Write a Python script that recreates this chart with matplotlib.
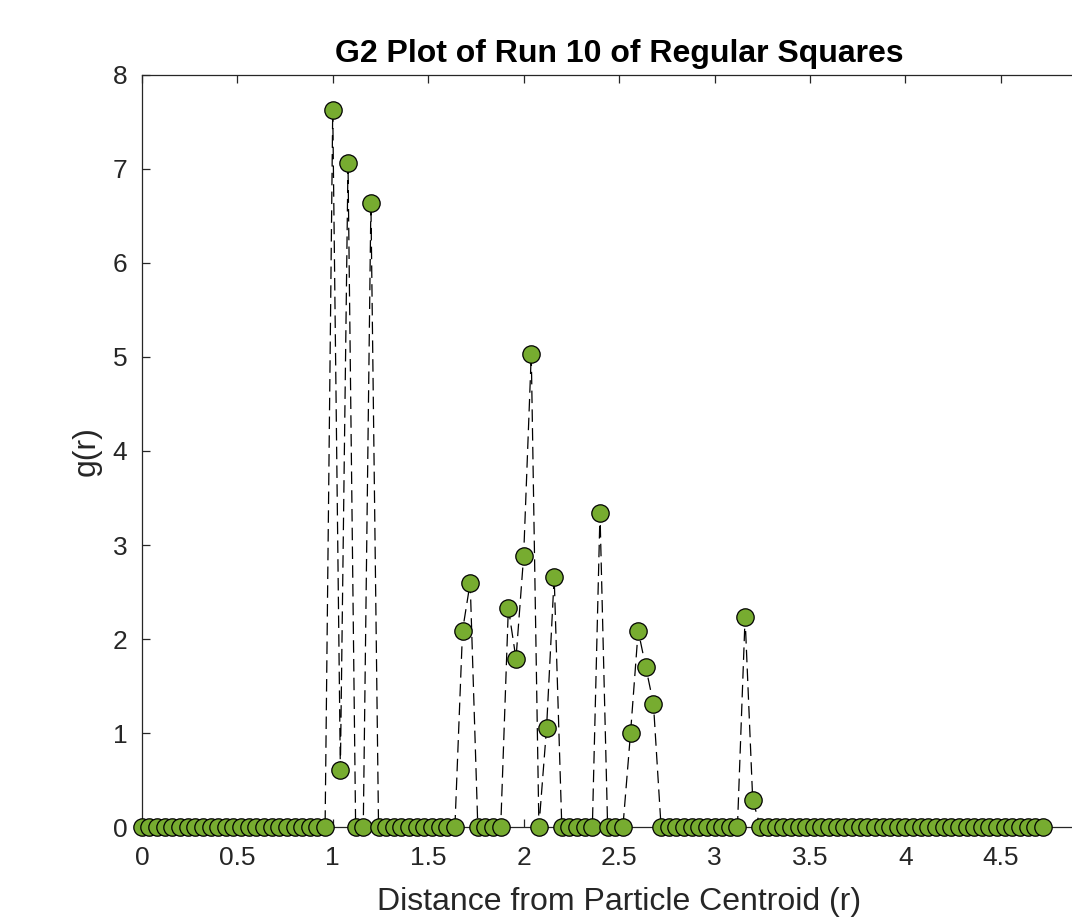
import numpy as np
import matplotlib
matplotlib.use("Agg")
import matplotlib.pyplot as plt

plt.rcParams['font.family'] = ['Liberation Sans', 'DejaVu Sans']

# Data: g(r) sampled every 0.04 from 0 to 4.72
r_step = 0.04
g_values = [
    0, 0, 0, 0, 0, 0, 0, 0, 0, 0,          # 0.00 - 0.36
    0, 0, 0, 0, 0, 0, 0, 0, 0, 0,          # 0.40 - 0.76
    0, 0, 0, 0, 0, 7.63, 0.61, 7.06, 0, 0, # 0.80 - 1.16
    6.64, 0, 0, 0, 0, 0, 0, 0, 0, 0,       # 1.20 - 1.56
    0, 0, 2.09, 2.60, 0, 0, 0, 0, 2.33, 1.79,  # 1.60 - 1.96
    2.88, 5.03, 0, 1.05, 2.66, 0, 0, 0, 0, 0,  # 2.00 - 2.36
    3.34, 0, 0, 0, 1.00, 2.09, 1.70, 1.31, 0, 0,  # 2.40 - 2.76
    0, 0, 0, 0, 0, 0, 0, 0, 0, 2.23,       # 2.80 - 3.16
    0.29, 0, 0, 0, 0, 0, 0, 0, 0, 0,       # 3.20 - 3.56
    0, 0, 0, 0, 0, 0, 0, 0, 0, 0,          # 3.60 - 3.96
    0, 0, 0, 0, 0, 0, 0, 0, 0, 0,          # 4.00 - 4.36
    0, 0, 0, 0, 0, 0, 0, 0, 0,             # 4.40 - 4.72
]
r_values = np.arange(len(g_values)) * r_step

x_ticks = [0, 0.5, 1, 1.5, 2, 2.5, 3, 3.5, 4, 4.5]
y_ticks = [0, 1, 2, 3, 4, 5, 6, 7, 8]

title_text = "G2 Plot of Run 10 of Regular Squares"
x_label = "Distance from Particle Centroid (r)"
y_label = "g(r)"

fig = plt.figure(figsize=(10.72, 9.19), dpi=100)
ax = fig.add_axes([0.1323, 0.1001, 0.8904, 0.8183])

ax.plot(r_values, g_values, color='black', linewidth=0.9,
        linestyle=(0, (10, 5)), marker='o', markersize=12.5,
        markerfacecolor='#77AC30', markeredgecolor='black',
        markeredgewidth=0.9, clip_on=False, zorder=3)

ax.set_xlim(0, 5)
ax.set_ylim(0, 8)
ax.set_xticks(x_ticks)
ax.set_xticklabels([f"{t:g}" for t in x_ticks])
ax.set_yticks(y_ticks)

axis_color = '#262626'
for s in ax.spines.values():
    s.set_color(axis_color)
    s.set_linewidth(0.9)

ax.tick_params(axis='both', direction='in', length=6, width=0.9,
               colors=axis_color, labelsize=19, top=True, right=True)
ax.tick_params(axis='x', pad=14)
ax.tick_params(axis='y', pad=10.5)
ax.tick_params(axis='both', labelcolor='#262626')

ax.set_title(title_text, fontsize=23, fontweight='bold', color='black', pad=9)
ax.set_xlabel(x_label, fontsize=23, color='#262626', labelpad=12)
ax.set_ylabel(y_label, fontsize=23, color='#262626', labelpad=8)

fig.savefig("out.png", dpi=100)
